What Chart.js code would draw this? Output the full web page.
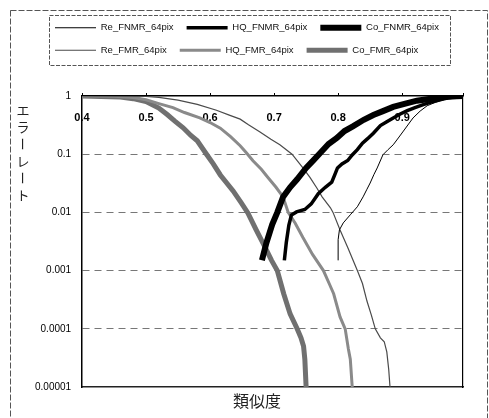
<!DOCTYPE html>
<html>
<head>
<meta charset="utf-8">
<title>エラーレート</title>
<script src="https://cdn.jsdelivr.net/npm/chart.js@4.4.1/dist/chart.umd.min.js"></script>
<style>
  html, body { margin: 0; padding: 0; background: #fff; }
  #wrap { width: 489px; height: 418px; }
</style>
</head>
<body>
<div id="wrap"><canvas id="myChart" width="489" height="418"></canvas></div>
<script>
const seriesNames = ['Re_FNMR_64pix', 'HQ_FNMR_64pix', 'Co_FNMR_64pix', 'Re_FMR_64pix', 'HQ_FMR_64pix', 'Co_FMR_64pix'];

const xTickLabels = ['0.4', '0.5', '0.6', '0.7', '0.8', '0.9'];
const yTickValues = [0.00001, 0.0001, 0.001, 0.01, 0.1, 1];
const yTickLabels = ['0.00001', '0.0001', '0.001', '0.01', '0.1', '1'];

// similarity (x) / error rate (y)
const reFnmrX = [0.8, 0.8, 0.802, 0.808, 0.819, 0.83, 0.839, 0.845, 0.85, 0.856, 0.861, 0.87, 0.878, 0.886, 0.894, 0.902, 0.91, 0.917, 0.928, 0.939, 0.952, 0.964, 0.976, 0.986, 0.995];
const reFnmrY = [0.0015, 0.0034, 0.005, 0.0066, 0.0091, 0.0125, 0.0185, 0.025, 0.032, 0.045, 0.058, 0.098, 0.12, 0.145, 0.19, 0.25, 0.33, 0.42, 0.55, 0.68, 0.78, 0.86, 0.93, 0.97, 1];

const hqFnmrX = [0.716, 0.719, 0.723, 0.727, 0.735, 0.748, 0.758, 0.769, 0.78, 0.79, 0.795, 0.799, 0.806, 0.815, 0.822, 0.83, 0.838, 0.846, 0.855, 0.866, 0.876, 0.886, 0.897, 0.908, 0.92, 0.933, 0.946, 0.959, 0.972, 0.986, 0.995];
const hqFnmrY = [0.0015, 0.003, 0.006, 0.009, 0.0102, 0.0112, 0.014, 0.021, 0.027, 0.033, 0.045, 0.058, 0.068, 0.078, 0.097, 0.12, 0.155, 0.185, 0.23, 0.31, 0.36, 0.42, 0.49, 0.56, 0.63, 0.71, 0.79, 0.86, 0.93, 0.975, 1];

const coFnmrX = [0.681, 0.688, 0.697, 0.705, 0.714, 0.725, 0.736, 0.75, 0.762, 0.772, 0.785, 0.798, 0.81, 0.823, 0.84, 0.855, 0.87, 0.886, 0.905, 0.923, 0.945, 0.965, 0.985, 0.995];
const coFnmrY = [0.0015, 0.003, 0.0062, 0.01, 0.0185, 0.027, 0.037, 0.058, 0.08, 0.105, 0.15, 0.19, 0.25, 0.3, 0.39, 0.47, 0.55, 0.65, 0.74, 0.83, 0.9, 0.96, 0.99, 1];

const reFmrX = [0.4, 0.5, 0.52, 0.55, 0.58, 0.61, 0.63, 0.647, 0.66, 0.678, 0.695, 0.709, 0.728, 0.745, 0.756, 0.767, 0.775, 0.788, 0.792, 0.803, 0.815, 0.83, 0.838, 0.845, 0.852, 0.858, 0.866, 0.872, 0.876, 0.879, 0.881];
const reFmrY = [1, 0.98, 0.95, 0.85, 0.72, 0.57, 0.47, 0.4, 0.32, 0.24, 0.18, 0.145, 0.1, 0.058, 0.04, 0.026, 0.0185, 0.012, 0.01, 0.005, 0.0025, 0.001, 0.0006, 0.0003, 0.00017, 0.0001, 0.00007, 0.00006, 0.00004, 0.00002, 0.00001];

const hqFmrX = [0.4, 0.45, 0.48, 0.5, 0.52, 0.542, 0.56, 0.584, 0.6, 0.616, 0.632, 0.647, 0.657, 0.667, 0.68, 0.691, 0.703, 0.714, 0.722, 0.733, 0.745, 0.76, 0.777, 0.786, 0.793, 0.803, 0.811, 0.816, 0.819, 0.822];
const hqFmrY = [1, 0.99, 0.94, 0.86, 0.74, 0.63, 0.52, 0.42, 0.35, 0.28, 0.2, 0.14, 0.105, 0.077, 0.055, 0.039, 0.027, 0.0185, 0.01, 0.0065, 0.0037, 0.0019, 0.001, 0.0006, 0.0004, 0.00016, 0.0001, 0.000045, 0.00003, 0.00001];

const coFmrX = [0.4, 0.43, 0.46, 0.48, 0.5, 0.52, 0.533, 0.545, 0.558, 0.57, 0.58, 0.595, 0.605, 0.616, 0.626, 0.636, 0.648, 0.659, 0.672, 0.686, 0.696, 0.705, 0.715, 0.725, 0.736, 0.742, 0.746, 0.748, 0.75];
const coFmrY = [1, 0.98, 0.96, 0.9, 0.8, 0.62, 0.48, 0.37, 0.284, 0.21, 0.17, 0.098, 0.068, 0.044, 0.032, 0.0234, 0.015, 0.0098, 0.005, 0.0025, 0.0015, 0.001, 0.0004, 0.00018, 0.0001, 0.00007, 0.00005, 0.00003, 0.00001];

const toPoints = (xs, ys) => xs.map((x, i) => ({ x: x, y: ys[i] }));

const seriesData = [
	toPoints(reFnmrX, reFnmrY),
	toPoints(hqFnmrX, hqFnmrY),
	toPoints(coFnmrX, coFnmrY),
	toPoints(reFmrX, reFmrY),
	toPoints(hqFmrX, hqFmrY),
	toPoints(coFmrX, coFmrY)
];
const seriesColors = ['#000', '#000', '#000', '#4a4a4a', '#8a8a8a', '#707070'];
const seriesWidths = [1, 3.5, 6, 1.2, 3, 5];

// frames and the two axis titles (the y one is written top to bottom)
const decorations = {
	id: 'decorations',
	beforeDraw(chart) {
		const ctx = chart.ctx;
		ctx.save();
		ctx.fillStyle = '#fff';
		ctx.fillRect(0, 0, chart.width, chart.height);
		ctx.restore();
	},
	afterDraw(chart) {
		const ctx = chart.ctx;
		ctx.save();
		ctx.strokeStyle = '#555';
		ctx.lineWidth = 1;
		ctx.setLineDash([6, 2]);
		ctx.strokeRect(10.5, 10.5, 477, 430);
		ctx.setLineDash([4, 1.5]);
		ctx.strokeRect(49.5, 15.5, 401, 50);
		ctx.setLineDash([]);

		ctx.fillStyle = '#222';
		ctx.font = '13px "Noto Sans CJK JP"';
		ctx.textAlign = 'center';
		ctx.textBaseline = 'middle';
		const yTitle = 'エラーレート';
		Array.from(yTitle).forEach((ch, i) => {
			const cy = 110 + i * 17;
			if (ch === 'ー') {
				ctx.save();
				ctx.translate(23, cy);
				ctx.rotate(Math.PI / 2);
				ctx.fillText(ch, 0, 0);
				ctx.restore();
			} else {
				ctx.fillText(ch, 23, cy);
			}
		});

		ctx.font = '16px "Noto Sans CJK JP"';
		ctx.fillText('類似度', 257, 401);
		ctx.restore();
	}
};

const myChart = new Chart(document.getElementById('myChart'), {
	type: 'line',
	data: {
		datasets: seriesNames.map((name, i) => ({
			label: name,
			data: seriesData[i],
			borderColor: seriesColors[i],
			backgroundColor: seriesColors[i],
			borderWidth: seriesWidths[i],
			pointRadius: 0,
			tension: 0,
			fill: false
		}))
	},
	options: {
		responsive: false,
		animation: false,
		layout: { padding: { top: 10, left: 42, right: 0, bottom: 0 } },
		plugins: {
			tooltip: { enabled: false },
			legend: {
				align: 'start',
				labels: {
					usePointStyle: true,
					pointStyle: 'line',
					pointStyleWidth: 41,
					padding: 13,
					color: '#111',
					font: { family: '"Liberation Sans", Arial', size: 9.5 }
				}
			}
		},
		scales: {
			x: {
				type: 'linear',
				position: 'top',
				min: 0.4,
				max: 0.995,
				afterFit: s => { s.height = 96 - 10 - s.chart.legend.height; },
				ticks: {
					stepSize: 0.1,
					maxRotation: 0,
					autoSkip: false,
					mirror: true,
					padding: 15,
					color: '#000',
					font: { family: '"Liberation Sans", Arial', size: 11, weight: 'bold' },
					callback: v => xTickLabels[Math.round((v - 0.4) * 10)] || ''
				},
				grid: { drawOnChartArea: false, drawTicks: true, tickLength: 3, tickColor: '#000' },
				border: { display: true, color: '#000', width: 1.5 }
			},
			xb: {
				type: 'linear',
				position: 'bottom',
				min: 0,
				max: 1,
				afterFit: s => { s.height = 31; },
				ticks: { display: false },
				grid: { display: false },
				border: { display: true, color: '#222', width: 1.5 }
			},
			y: {
				type: 'logarithmic',
				min: 0.00001,
				max: 1,
				afterFit: s => { s.width = 40; },
				afterBuildTicks: s => { s.ticks = yTickValues.map(v => ({ value: v })); },
				ticks: {
					mirror: true,
					crossAlign: 'far',
					padding: -47,
					color: '#000',
					font: { family: '"Liberation Sans", Arial', size: 10 },
					callback: (v, i) => yTickLabels[i]
				},
				grid: {
					drawTicks: false,
					color: c => (c.tick && (c.tick.value === 1 || c.tick.value === 0.00001)) ? 'rgba(0,0,0,0)' : '#777'
				},
				border: { display: true, color: '#000', width: 1.5, dash: [7, 5] }
			},
			yr: {
				type: 'linear',
				position: 'right',
				min: 0,
				max: 1,
				afterFit: s => { s.width = 26; },
				ticks: { display: false },
				grid: { display: false },
				border: { display: true, color: '#000', width: 1.2 }
			}
		}
	},
	plugins: [decorations]
});
</script>
</body>
</html>
